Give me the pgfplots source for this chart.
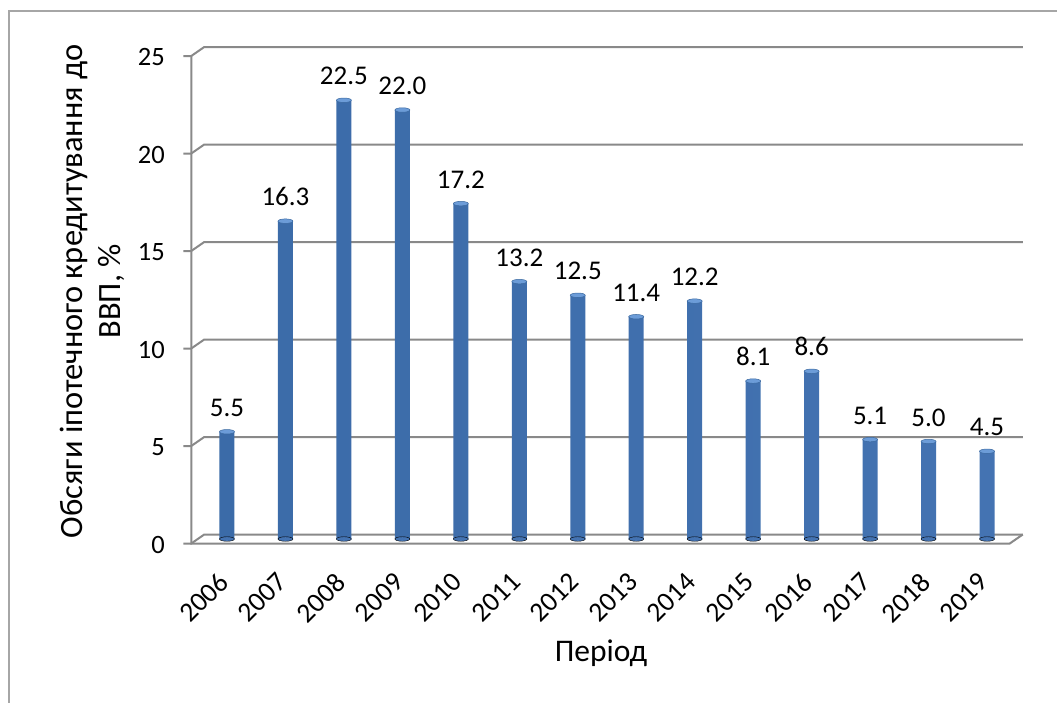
\documentclass[border=0pt]{standalone}
\usepackage{fontspec}
\setmainfont{Carlito}
\usepackage{pgfplots}
\usepackage{pgfplotstable}
\pgfplotsset{compat=1.18}

\definecolor{gridgray}{HTML}{898989}
\definecolor{framegray}{HTML}{A6A6A6}
\definecolor{barmid}{HTML}{5A8ED3}
\definecolor{barleft}{HTML}{3B6BA8}
\definecolor{barright}{HTML}{4473B2}
\definecolor{bartop}{HTML}{6C9CD8}
\definecolor{barrim}{HTML}{3A689F}

% share of mortgage lending in GDP, per cent
\pgfplotstableread{
idx year value
0  2006 5.5
1  2007 16.3
2  2008 22.5
3  2009 22.0
4  2010 17.2
5  2011 13.2
6  2012 12.5
7  2013 11.4
8  2014 12.2
9  2015 8.1
10 2016 8.6
11 2017 5.1
12 2018 5.0
13 2019 4.5
}\mortgage

% depth offsets of the front and back planes relative to the bar plane
\tikzset{
  fr/.style={shift={(-6.5pt,-4.5pt)}},
  bk/.style={shift={(6.5pt,4.5pt)}},
  tk/.style={shift={(-14.5pt,-4.5pt)}},
}

\begin{document}
\begin{tikzpicture}
\path[use as bounding box] (0pt,0pt) rectangle (1057pt,-702pt);
\draw[framegray, line width=1.5pt] (1062pt,-11pt) -- (9pt,-11pt) -- (9pt,-707pt);
\begin{axis}[
  at={(197.75pt,-539pt)}, anchor=south west,
  scale only axis, width=818.5pt, height=487.5pt,
  xmin=-0.5, xmax=13.5, ymin=0, ymax=25,
  clip=false,
  axis line style={draw=none}, tick style={draw=none},
  xtick={0,...,13},
  xticklabels={2006,2007,2008,2009,2010,2011,2012,2013,2014,2015,2016,2017,2018,2019},
  ytick={0,5,...,25},
  /pgf/number format/assume math mode=true,
  ticklabel style={inner sep=0pt},
  yticklabel style={font=\fontsize{26.5}{30}\selectfont,
    anchor=east, xshift=-32.75pt, yshift=-5.5pt},
  xticklabel style={font=\fontsize{27.5}{31}\selectfont,
    xshift=-10pt, yshift=-32pt, rotate=45, anchor=north east},
  ylabel={Обсяги іпотечного кредитування до\\ВВП, \%},
  ylabel style={at={(axis description cs:-0.0889,0.508)}, anchor=south,
    align=center, inner sep=0pt, font=\fontsize{32.5}{38}\selectfont},
  xlabel={Період},
  xlabel style={at={(axis description cs:0.4927,-0.2503)}, anchor=base,
    inner sep=0pt, font=\fontsize{31.5}{36}\selectfont},
]
% back wall gridlines with their diagonal links to the front ticks
\pgfplotsinvokeforeach{0,5,10,15,20,25}{
  \draw[gridgray, line width=2pt]
    ([tk]axis cs:-0.5,#1) --
    ([fr]axis cs:-0.5,#1) --
    ([bk]axis cs:-0.5,#1) --
    ([bk]axis cs:13.5,#1);
}
% front value axis and floor edge
\draw[gridgray, line width=2pt] ([fr]axis cs:-0.5,25) -- ([fr]axis cs:-0.5,0)
  -- ([fr]axis cs:13.5,0) -- ([bk]axis cs:13.5,0);

% rounded cylinder bases
\addplot[only marks, mark=*, mark size=7.5pt,
  mark options={yscale=0.3, draw=none, fill=barright}]
  table[x=idx, y expr=0] {\mortgage};
% cylinder bodies
\addplot[ybar, bar width=15pt, draw=none,
  left color=barleft, middle color=barmid, right color=barright]
  table[x=idx, y=value] {\mortgage};
% cylinder tops with value labels
\addplot[only marks, mark=*, mark size=7.5pt,
  mark options={yscale=0.3, draw=barrim, line width=0.5pt, fill=bartop},
  nodes near coords={\pgfmathprintnumber[fixed,fixed zerofill,precision=1]{\pgfplotspointmeta}},
  every node near coord/.append style={font=\fontsize{27}{31}\selectfont,
    text=black, anchor=south, inner sep=0pt, yshift=15pt}]
  table[x=idx, y=value] {\mortgage};
\end{axis}
\end{tikzpicture}
\end{document}
